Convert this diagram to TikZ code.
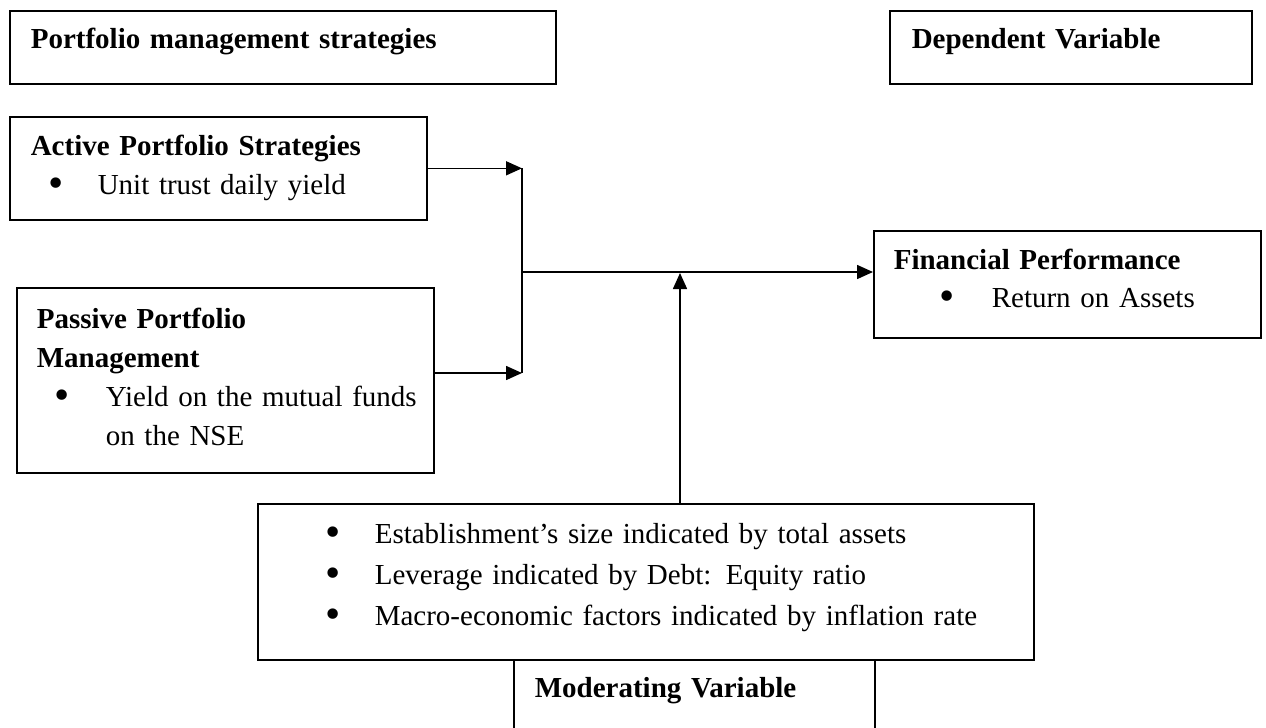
\documentclass[tikz,border=0pt]{standalone}
\usepackage{fontspec}
\setmainfont{Liberation Serif}
\usetikzlibrary{arrows.meta}
\setlength{\parindent}{0pt}
\newcommand{\itm}[2]{\makebox[#2][l]{\hspace*{#1}\raisebox{-0.1em}{\scalebox{1.5}{\textbullet}}}}
\newcommand{\topstrut}[1]{\rule{0pt}{#1}}
\newcommand{\botstrut}[1]{\rule[-#1]{0pt}{#1}}

\begin{document}
\begin{tikzpicture}[x=1pt,y=-1pt,
  box/.style={draw,line width=1.6pt,anchor=north west,align=left,
              inner ysep=0pt,inner xsep=21pt,font=\fontsize{29}{39}\selectfont},
  arr/.style={-{Triangle[length=16pt,width=14pt]},line width=1.6pt}
]
\useasboundingbox (0,0) rectangle (1266,728);
\clip (0,0) rectangle (1266,728);

% headings
\node[box,text width=504pt] (pms) at (9,10)
  {\topstrut{38pt}\textbf{Portfolio management strategies}\botstrut{35pt}};
\node[box,text width=318pt,inner xsep=22pt] (dep) at (889,10)
  {\topstrut{38pt}\textbf{Dependent Variable}\botstrut{35pt}};

% independent variables
\node[box,text width=375pt] (act) at (9,116)
  {\topstrut{39pt}\textbf{Active Portfolio Strategies}\\
   \itm{18pt}{67pt}Unit trust daily yield\botstrut{25pt}};
\node[box,text width=377pt,inner xsep=20pt] (pas) at (16,287)
  {\topstrut{41pt}\textbf{Passive Portfolio}\\
   \textbf{Management}\\
   \mbox{\itm{18pt}{69pt}Yield on the mutual funds}\\
   \hspace*{69pt}on the NSE\botstrut{27pt}};

% dependent variable
\node[box,text width=347pt,inner xsep=20pt,font=\fontsize{29}{38}\selectfont] (fin) at (873,230)
  {\topstrut{39pt}\textbf{Financial Performance}\\
   \itm{46pt}{98pt}Return on Assets\botstrut{30pt}};

% moderating variable
\node[box,text width=734pt,font=\fontsize{29}{41}\selectfont] (mod) at (257,503)
  {\topstrut{40pt}\itm{47pt}{96pt}Establishment’s size indicated by total assets\\
   \itm{47pt}{96pt}Leverage indicated by Debt: Equity ratio\\
   \itm{47pt}{96pt}Macro-economic factors indicated by inflation rate\botstrut{34pt}};
\node[box,text width=319pt] (mv) at (513,659)
  {\topstrut{38pt}\textbf{Moderating Variable}\botstrut{60pt}};

\coordinate (jtop) at (522,168);
\coordinate (jbot) at (522,373);
\coordinate (jmid) at (522,272);
\coordinate (mjoin) at (680,272);

\draw[arr] (act.east) -- (act.east -| jtop);
\draw[arr] (pas.east |- jbot) -- (jbot);
\draw[line width=1.6pt] (act.east -| jtop) -- (jbot);
\draw[arr] (jmid) -- (jmid -| fin.west);
\draw[arr,shorten >=1pt] (mod.north -| mjoin) -- (mjoin);

\end{tikzpicture}
\end{document}
